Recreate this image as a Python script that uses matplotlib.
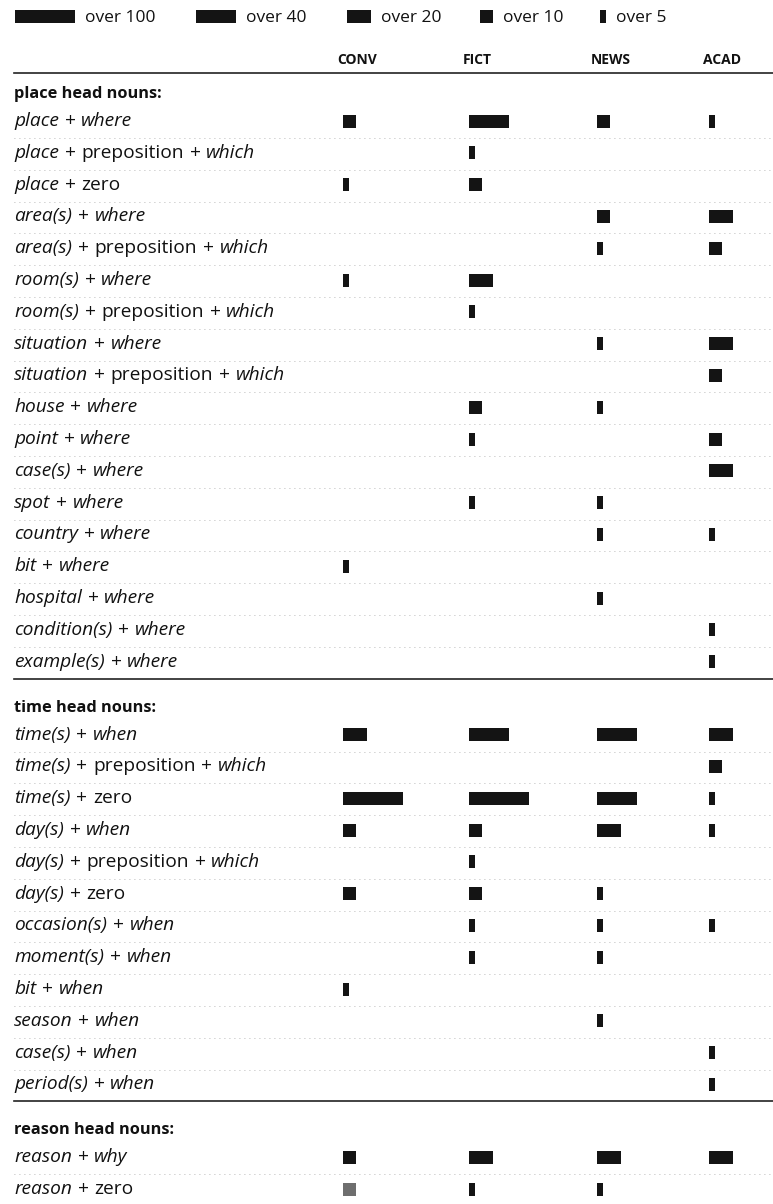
import matplotlib
matplotlib.use("Agg")
import matplotlib.pyplot as plt

plt.rcParams['font.family'] = 'Open Sans'

# frequency bands (per million words), 0 = nothing shown
registers = ["CONV", "FICT", "NEWS", "ACAD"]
legend_levels = [100, 40, 20, 10, 5]
legend_labels = ["over 100", "over 40", "over 20", "over 10", "over 5"]

place_title = "place head nouns:"
place_rows = ["place + where", "place + preposition + which", "place + zero",
              "area(s) + where", "area(s) + preposition + which", "room(s) + where",
              "room(s) + preposition + which", "situation + where",
              "situation + preposition + which", "house + where", "point + where",
              "case(s) + where", "spot + where", "country + where", "bit + where",
              "hospital + where", "condition(s) + where", "example(s) + where"]
place_conv = [10, 0, 5, 0, 0, 5, 0, 0, 0, 0, 0, 0, 0, 0, 5, 0, 0, 0]
place_fict = [40, 5, 10, 0, 0, 20, 5, 0, 0, 10, 5, 0, 5, 0, 0, 0, 0, 0]
place_news = [10, 0, 0, 10, 5, 0, 0, 5, 0, 5, 0, 0, 5, 5, 0, 5, 0, 0]
place_acad = [5, 0, 0, 20, 10, 0, 0, 20, 10, 0, 10, 20, 0, 5, 0, 0, 5, 5]

time_title = "time head nouns:"
time_rows = ["time(s) + when", "time(s) + preposition + which", "time(s) + zero",
             "day(s) + when", "day(s) + preposition + which", "day(s) + zero",
             "occasion(s) + when", "moment(s) + when", "bit + when",
             "season + when", "case(s) + when", "period(s) + when"]
time_conv = [20, 0, 100, 10, 0, 10, 0, 0, 5, 0, 0, 0]
time_fict = [40, 0, 100, 10, 5, 10, 5, 5, 0, 0, 0, 0]
time_news = [40, 0, 40, 20, 0, 5, 5, 5, 0, 5, 0, 0]
time_acad = [20, 10, 5, 5, 0, 0, 5, 0, 0, 0, 5, 5]

reason_title = "reason head nouns:"
reason_rows = ["reason + why", "reason + zero"]
reason_conv = [10, 10]
reason_fict = [20, 5]
reason_news = [20, 5]
reason_acad = [20, 0]

sections = [
    (place_title, place_rows, [place_conv, place_fict, place_news, place_acad]),
    (time_title, time_rows, [time_conv, time_fict, time_news, time_acad]),
    (reason_title, reason_rows, [reason_conv, reason_fict, reason_news, reason_acad]),
]

# bar length for each band, in pixels
band_width = {100: 60, 40: 40, 20: 24, 10: 13, 5: 6}
col_x = [343, 469, 597, 709]
bar_h = 13
ink = "#141414"
plain_words = {"+", "preposition", "zero"}
faded = {("reason + zero", 0)}  # this cell prints grey in the source

fig = plt.figure(figsize=(7.73, 12.04), dpi=100)
ax = fig.add_axes([0, 0, 1, 1])
ax.set_xlim(0, 773)
ax.set_ylim(1204, 0)
ax.axis("off")
renderer = fig.canvas.get_renderer()

label_size = 13.8
space = 0.3 * label_size * 100 / 72


def draw_label(x, y, s):
    # italic for the nouns / relativizers, upright for '+', 'preposition', 'zero'
    for w in s.split(" "):
        st = "normal" if w in plain_words else "italic"
        t = ax.text(x, y, w, fontsize=label_size, style=st, va="baseline", color="#111")
        x += t.get_window_extent(renderer=renderer).width + space


# legend
leg_x = [15, 196, 347, 480, 600]
for lx, lev, lab in zip(leg_x, legend_levels, legend_labels):
    w = band_width[lev]
    ax.barh(16.5, w, left=lx, height=bar_h, color=ink)
    ax.text(lx + w + 10, 22, lab, fontsize=12.5, va="baseline", color="#111")

# column headers
for cx, reg in zip(col_x, registers):
    ax.text(cx - 6, 64.5, reg, fontsize=10, fontweight="bold", va="baseline", color="#111")
ax.plot([14, 773], [73, 73], color="#222", lw=1.2)

y = 93
row_step = 31.8
for title, rows, cols in sections:
    ax.text(14, y + 5, title, fontsize=11.8, fontweight="bold", va="baseline", color="#111")
    ys = [y + 28 + i * row_step for i in range(len(rows))]
    for ry, lab in zip(ys, rows):
        draw_label(14, ry + 5, lab)
    for ci, vals in enumerate(cols):
        for ry, lab, v in zip(ys, rows, vals):
            if v:
                c = "#6e6e6e" if (lab, ci) in faded else ink
                ax.barh(ry, band_width[v], left=col_x[ci], height=bar_h, color=c)
    # faint dotted leaders between rows
    for a, b in zip(ys[:-1], ys[1:]):
        ax.plot([14, 773], [(a + b) / 2 + 1, (a + b) / 2 + 1], color="#a0a0a0",
                lw=0.6, linestyle=(0, (1, 5)))
    line_y = ys[-1] + 17
    if title != reason_title:
        ax.plot([14, 773], [line_y, line_y], color="#222", lw=1.2)
    y = line_y + 28

fig.savefig("out.png", dpi=100)
